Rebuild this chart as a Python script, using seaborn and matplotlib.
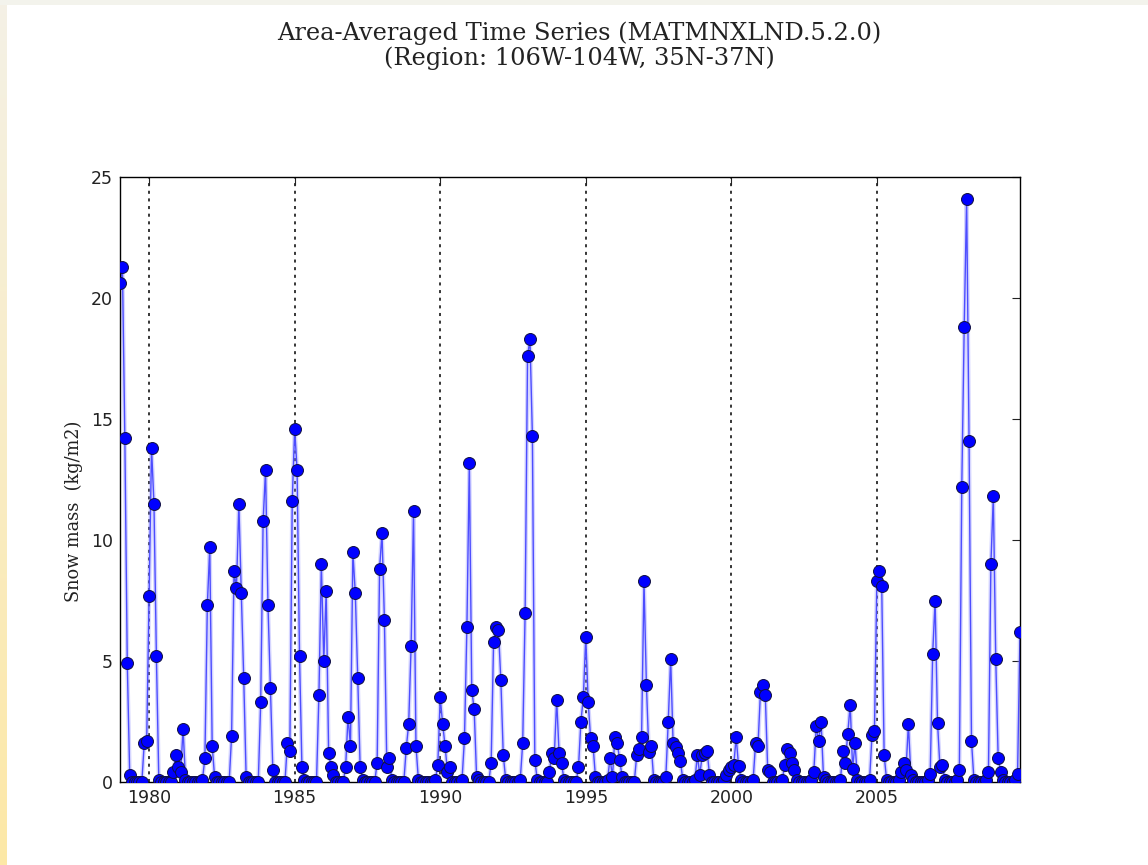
import numpy as np
import pandas as pd
import matplotlib
matplotlib.use("Agg")
import matplotlib.pyplot as plt
from matplotlib.patches import Rectangle
from matplotlib.colors import LinearSegmentedColormap
import seaborn as sns

# ---- data (monthly, Jan 1979 .. Dec 2009) ----
start_year = 1979
snow_mass = [
    20.6, 21.3, 14.2, 4.9, 0.3, 0.0, 0.0, 0.0, 0.0, 0.0, 1.6, 1.7,      # 1979
    7.7, 13.8, 11.5, 5.2, 0.1, 0.0, 0.0, 0.0, 0.0, 0.0, 0.4, 1.1,       # 1980
    0.6, 0.4, 2.2, 0.1, 0.0, 0.0, 0.0, 0.0, 0.0, 0.0, 0.1, 1.0,         # 1981
    7.3, 9.7, 1.5, 0.2, 0.0, 0.0, 0.0, 0.0, 0.0, 0.0, 1.9, 8.7,         # 1982
    8.0, 11.5, 7.8, 4.3, 0.2, 0.0, 0.0, 0.0, 0.0, 0.0, 3.3, 10.8,       # 1983
    12.9, 7.3, 3.9, 0.5, 0.0, 0.0, 0.0, 0.0, 0.0, 1.6, 1.3, 11.6,       # 1984
    14.6, 12.9, 5.2, 0.6, 0.1, 0.0, 0.0, 0.0, 0.0, 0.0, 3.6, 9.0,       # 1985
    5.0, 7.9, 1.2, 0.6, 0.3, 0.0, 0.0, 0.0, 0.0, 0.6, 2.7, 1.5,         # 1986
    9.5, 7.8, 4.3, 0.6, 0.1, 0.0, 0.0, 0.0, 0.0, 0.0, 0.8, 8.8,         # 1987
    10.3, 6.7, 0.6, 1.0, 0.1, 0.0, 0.0, 0.0, 0.0, 0.0, 1.4, 2.4,        # 1988
    5.6, 11.2, 1.5, 0.1, 0.0, 0.0, 0.0, 0.0, 0.0, 0.0, 0.1, 0.7,        # 1989
    3.5, 2.4, 1.5, 0.4, 0.6, 0.0, 0.0, 0.0, 0.0, 0.1, 1.8, 6.4,         # 1990
    13.2, 3.8, 3.0, 0.2, 0.1, 0.0, 0.0, 0.0, 0.0, 0.8, 5.8, 6.4,        # 1991
    6.3, 4.2, 1.1, 0.1, 0.0, 0.0, 0.0, 0.0, 0.0, 0.1, 1.6, 7.0,         # 1992
    17.6, 18.3, 14.3, 0.9, 0.1, 0.0, 0.0, 0.0, 0.0, 0.4, 1.2, 1.0,      # 1993
    3.4, 1.2, 0.8, 0.1, 0.0, 0.0, 0.0, 0.0, 0.0, 0.6, 2.5, 3.5,         # 1994
    6.0, 3.3, 1.8, 1.5, 0.2, 0.0, 0.0, 0.0, 0.0, 0.1, 1.0, 0.2,         # 1995
    1.85, 1.6, 0.9, 0.2, 0.0, 0.0, 0.0, 0.0, 0.0, 1.1, 1.35, 1.85,      # 1996
    8.3, 4.0, 1.25, 1.5, 0.1, 0.0, 0.0, 0.0, 0.0, 0.2, 2.5, 5.1,        # 1997
    1.6, 1.45, 1.2, 0.87, 0.1, 0.0, 0.0, 0.0, 0.0, 0.1, 1.1, 0.3,       # 1998
    1.1, 1.2, 1.3, 0.3, 0.0, 0.0, 0.0, 0.0, 0.0, 0.1, 0.3, 0.5,         # 1999
    0.6, 0.7, 1.85, 0.65, 0.1, 0.0, 0.0, 0.0, 0.0, 0.1, 1.6, 1.5,       # 2000
    3.7, 4.0, 3.6, 0.5, 0.4, 0.0, 0.0, 0.0, 0.0, 0.1, 0.7, 1.35,        # 2001
    1.2, 0.8, 0.5, 0.1, 0.0, 0.0, 0.0, 0.0, 0.0, 0.1, 0.4, 2.3,         # 2002
    1.7, 2.5, 0.2, 0.1, 0.0, 0.0, 0.0, 0.0, 0.0, 0.1, 1.3, 0.8,         # 2003
    2.0, 3.2, 0.55, 1.6, 0.1, 0.0, 0.0, 0.0, 0.0, 0.1, 1.95, 2.1,       # 2004
    8.3, 8.7, 8.1, 1.1, 0.1, 0.0, 0.0, 0.0, 0.0, 0.1, 0.4, 0.8,         # 2005
    0.5, 2.4, 0.3, 0.1, 0.0, 0.0, 0.0, 0.0, 0.0, 0.1, 0.35, 5.3,        # 2006
    7.5, 2.45, 0.6, 0.7, 0.1, 0.0, 0.0, 0.0, 0.0, 0.1, 0.5, 12.2,       # 2007
    18.8, 24.1, 14.1, 1.7, 0.1, 0.0, 0.0, 0.0, 0.0, 0.1, 0.4, 9.0,      # 2008
    11.8, 5.1, 1.0, 0.4, 0.1, 0.0, 0.0, 0.0, 0.0, 0.1, 0.35, 6.2,       # 2009
]
x_ticks = [1980, 1985, 1990, 1995, 2000, 2005]
y_ticks = [0, 5, 10, 15, 20, 25]
title_lines = ["Area-Averaged Time Series (MATMNXLND.5.2.0)",
               "(Region: 106W-104W, 35N-37N)"]
y_label = "Snow mass  (kg/m2)"

sns.set_theme(style="white")
plt.rcParams["font.family"] = ["DejaVu Sans"]

W, H = 1148, 865
fig = plt.figure(figsize=(W / 100, H / 100), dpi=100)
fig.patch.set_facecolor("white")

# decorative page border (top band + left strip)
fig.patches.append(Rectangle((0, 1 - 5 / H), 1, 5 / H, transform=fig.transFigure,
                             facecolor="#f3f3ec", edgecolor="none", zorder=0))
ax_strip = fig.add_axes([0, 0, 6 / W, 1])
grad = np.linspace(0, 1, 256).reshape(-1, 1)
cm = LinearSegmentedColormap.from_list("strip", ["#fde8a6", "#f4f1e6"])
ax_strip.imshow(grad, aspect="auto", cmap=cm, origin="lower")
ax_strip.set_axis_off()

ax = fig.add_axes([120 / W, 83 / H, 900 / W, 605 / H])
t = start_year + np.arange(len(snow_mass)) / 12.0
df = pd.DataFrame({"time": t, "snow": snow_mass})

# soft halo + core line
sns.lineplot(data=df, x="time", y="snow", ax=ax, color=(0.55, 0.55, 1.0),
             linewidth=3.0, alpha=0.35, zorder=2)
sns.lineplot(data=df, x="time", y="snow", ax=ax, color=(0.3, 0.3, 1.0),
             linewidth=1.0, zorder=2)
sns.scatterplot(data=df, x="time", y="snow", ax=ax, color="#0000ff",
                edgecolor="#101040", linewidth=0.7, s=74, zorder=3)

ax.set_xlim(start_year, start_year + (len(snow_mass) - 1) / 12.0)
ax.set_ylim(0, 25)
ax.set_xticks(x_ticks)
ax.set_xticklabels([str(v) for v in x_ticks])
ax.set_yticks(y_ticks)
ax.set_yticklabels([str(v) for v in y_ticks])
ax.xaxis.grid(True, linestyle=(0, (2, 3)), color="black", linewidth=1.1)
ax.yaxis.grid(False)
ax.set_axisbelow(True)
ax.tick_params(direction="in", top=True, right=True, length=6, width=0.8,
               labelsize=12.5, colors="#222222", pad=5)
for sp in ax.spines.values():
    sp.set_color("black")
    sp.set_linewidth(1.0)
ax.set_xlabel("")
ax.set_ylabel(y_label, family="DejaVu Serif", fontsize=12.8, color="#222222")
ax.yaxis.set_label_coords(-0.041, 0.448)

fig.text(0.505, 1 - 33 / H, title_lines[0], ha="center", va="center",
         family="DejaVu Serif", fontsize=17.4, color="#222222")
fig.text(0.505, 1 - 58 / H, title_lines[1], ha="center", va="center",
         family="DejaVu Serif", fontsize=17.4, color="#222222")

fig.savefig("out.png", dpi=100)
